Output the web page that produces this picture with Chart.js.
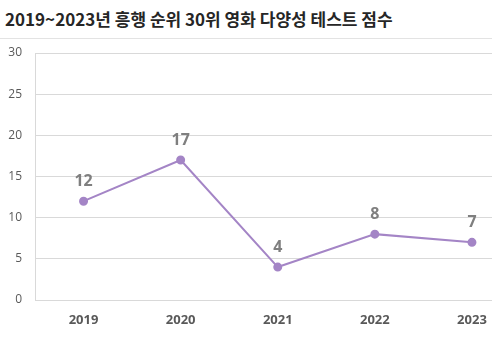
<!DOCTYPE html>
<html>
<head>
<meta charset="utf-8">
<script src="https://cdn.jsdelivr.net/npm/chart.js@4"></script>
<style>
  html, body { margin:0; padding:0; background:#fff; width:492px; height:351px; overflow:hidden; }
  #title { position:absolute; left:5px; top:7px; font-family:"Noto Sans CJK KR","Noto Sans",sans-serif; font-weight:700; font-size:17px; color:#262626; line-height:24px; white-space:nowrap; }
  #sep { position:absolute; left:0; top:38px; width:492px; height:1px; background:#e3e3e3; }
  #wrap { position:absolute; left:0; top:40px; width:526px; height:311px; }
</style>
</head>
<body>
<div id="title">2019~2023년 흥행 순위 30위 영화 다양성 테스트 점수</div>
<div id="sep"></div>
<div id="wrap"><canvas id="c" width="526" height="311"></canvas></div>
<script>
const categories = ['2019', '2020', '2021', '2022', '2023'];
const scores = [12, 17, 4, 8, 7];
const yTicks = [0, 5, 10, 15, 20, 25, 30];

const labelPlugin = {
  id: 'pointLabels',
  afterDatasetsDraw(chart) {
    const ctx = chart.ctx;
    const meta = chart.getDatasetMeta(0);
    ctx.save();
    ctx.font = 'bold 16px "Open Sans", sans-serif';
    ctx.fillStyle = '#7f7f7f';
    ctx.textAlign = 'center';
    ctx.textBaseline = 'middle';
    meta.data.forEach((pt, i) => {
      ctx.fillText(String(scores[i]), pt.x, pt.y - 20);
    });
    ctx.restore();
  }
};

new Chart(document.getElementById('c'), {
  type: 'line',
  data: {
    labels: categories,
    datasets: [{
      data: scores,
      borderColor: '#a485c6',
      backgroundColor: '#a485c6',
      borderWidth: 2,
      pointRadius: 3.5,
      pointHoverRadius: 3.5,
      pointBackgroundColor: '#a485c6',
      pointBorderColor: '#a485c6',
      tension: 0
    }]
  },
  options: {
    responsive: false,
    animation: false,
    devicePixelRatio: 1,
    layout: { padding: { top: 13, right: 2, left: 0, bottom: 0 } },
    plugins: { legend: { display: false }, tooltip: { enabled: false }, title: { display: false } },
    scales: {
      x: {
        offset: true,
        grid: { display: false, drawTicks: false },
        border: { display: false },
        ticks: {
          color: '#595959',
          font: { family: '"Open Sans", sans-serif', size: 13, weight: 'bold' },
          padding: 12,
          maxRotation: 0
        },
        afterFit(s) { s.height = 51; s.paddingLeft = 0; s.paddingRight = 0; }
      },
      y: {
        min: 0, max: 30,
        afterBuildTicks(s) { s.ticks = yTicks.map(v => ({ value: v })); },
        grid: { color: '#d9d9d9', lineWidth: 1, drawTicks: false },
        border: { display: true, color: '#d9d9d9', width: 1 },
        ticks: {
          color: '#595959',
          font: { family: '"Open Sans", sans-serif', size: 12 },
          padding: 13
        },
        afterFit(s) { s.width = 35; s.paddingTop = 0; s.paddingBottom = 0; }
      }
    }
  },
  plugins: [labelPlugin]
});
</script>
</body>
</html>
